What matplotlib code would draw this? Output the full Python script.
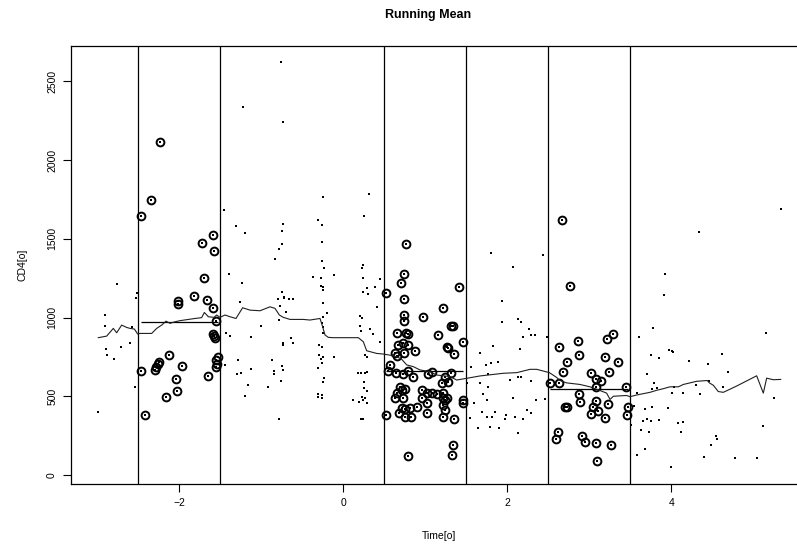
import numpy as np
import matplotlib
matplotlib.use('Agg')  # no display
import matplotlib.pyplot as plt

# --- data (time since seroconversion vs CD4 count) ---

# before the first window
seg_a_time = [-2.996, -2.910, -2.910, -2.898, -2.886, -2.801, -2.764, -2.715, -2.605, -2.577,
              -2.544, -2.528, -2.516]
seg_a_cd4 = [402, 1018, 948, 802, 759, 738, 1214, 810, 840, 941,
             560, 1126, 1157]

# window 1 (-2.5 .. -1.5)
win1_time = [-2.463, -2.463, -2.418, -2.345, -2.301, -2.280, -2.265, -2.250, -2.240, -2.167,
             -2.122, -2.040, -2.024, -2.012, -2.010, -1.967, -1.817, -1.728, -1.695, -1.667,
             -1.646, -1.585, -1.585, -1.585, -1.577, -1.572, -1.565, -1.557, -1.553, -1.553,
             -1.545, -1.524]
win1_cd4 = [1642, 662, 378, 1746, 666, 688, 705, 717, 2116, 497,
            764, 609, 533, 1104, 1085, 692, 1136, 1475, 1248, 1111,
            628, 1524, 1058, 895, 1422, 882, 872, 977, 730, 687,
            704, 751]

# between window 1 and window 2
seg_b_time = [-0.764, -1.228, -0.740, -1.459, -1.313, -1.203, -0.740, -0.748, -0.752, -0.789,
              -0.833, -1.394, -1.240, -1.260, -0.752, -0.801, -0.728, -0.728, -0.667, -0.618,
              -0.777, -0.699, -0.789, -1.008, -1.435, -1.382, -1.130, -0.642, -0.732, -0.740,
              -0.618, -1.447, -1.285, -1.130, -1.252, -1.301, -0.874, -0.752, -0.740, -0.846,
              -0.846, -0.760, -1.163, -0.923, -1.199, -0.789,
              0.314, -0.252, 0.253, -0.308, -0.264, -0.260, -0.264, -0.239, -0.369, -0.272,
              -0.117, 0.244, 0.224, 0.244, 0.448, 0.293, 0.305, 0.236, 0.383, -0.268,
              -0.243, -0.251, -0.251, 0.411, -0.195, -0.251, 0.204, 0.224, -0.264, -0.243,
              -0.243, 0.204, 0.216, 0.326, 0.358, 0.448, -0.292, -0.256, -0.300, -0.251,
              -0.276, -0.264, -0.113, -0.308, 0.265, 0.293, 0.183, 0.212, 0.265, 0.285,
              -0.235, -0.243, 0.253, 0.253, 0.285, -0.304, -0.264, -0.304, -0.264, 0.122,
              0.195, 0.244, 0.285, 0.224, 0.265, 0.216, 0.244]
seg_b_cd4 = [2624, 2339, 2243, 1682, 1583, 1538, 1596, 1549, 1469, 1435,
             1371, 1276, 1221, 1098, 1164, 1119, 1121, 1132, 1119, 1119,
             1073, 1032, 984, 948, 903, 884, 878, 872, 836, 825,
             836, 698, 730, 673, 649, 639, 730, 694, 666, 660,
             641, 598, 573, 560, 503, 353,
             1786, 1765, 1642, 1619, 1587, 1481, 1361, 1312, 1259, 1253,
             1267, 1331, 1312, 1253, 1246, 1187, 1149, 1164, 1195, 1202,
             1191, 1174, 1094, 1068, 1026, 1001, 1011, 994, 963, 937,
             899, 946, 916, 925, 895, 846, 825, 810, 762, 747,
             734, 713, 747, 677, 762, 747, 645, 645, 645, 656,
             613, 592, 592, 550, 533, 514, 507, 497, 486, 476,
             465, 476, 455, 497, 486, 355, 353]

# window 2 (0.5 .. 1.5)
win2_time = [0.765, 0.740, 0.704, 0.521, 0.740, 0.744, 0.744, 0.976, 0.651, 0.765,
             0.785, 0.671, 0.732, 0.793, 0.878, 0.631, 0.659, 0.740, 0.570, 0.549,
             0.643, 0.724, 0.793, 0.854, 1.037, 0.691, 0.753, 0.659, 0.712, 0.630,
             0.724, 0.956, 0.956, 1.017, 0.712, 0.753, 0.813, 0.894, 1.017, 0.521,
             0.683, 0.753, 0.822, 0.793, 1.025,
             1.415, 1.220, 1.309, 1.333, 1.159, 1.463, 1.260, 1.281, 1.350, 1.077,
             1.309, 1.240, 1.281, 1.199, 1.077, 1.138, 1.220, 1.260, 1.220, 1.240,
             1.211, 1.240, 1.211, 1.350, 1.455, 1.455, 1.342, 1.321]
win2_cd4 = [1464, 1276, 1217, 1157, 1119, 1016, 980, 1001, 899, 899,
            895, 825, 836, 825, 789, 772, 755, 772, 698, 662,
            649, 639, 662, 624, 639, 560, 543, 522, 539, 486,
            486, 539, 486, 518, 423, 416, 423, 429, 455, 380,
            391, 370, 370, 120, 396,
            1191, 1058, 946, 946, 889, 846, 814, 804, 768, 651,
            645, 620, 592, 582, 522, 514, 522, 486, 486, 476,
            444, 412, 370, 353, 476, 455, 190, 126]

# between window 2 and window 3
seg_c_time = [1.797, 2.431, 2.065, 1.931, 1.931, 2.126, 2.163, 2.260, 2.191, 2.289,
              2.333, 2.480, 2.154, 1.829, 1.667, 1.801, 1.886, 1.736, 1.553, 1.768,
              2.033, 2.126, 2.171, 2.289, 1.667, 1.504, 1.768, 1.699, 1.748, 2.065,
              2.346, 2.459, 1.594, 1.687, 1.748, 1.813, 1.850, 1.545, 1.984, 1.972,
              2.098, 2.195, 2.236, 2.285, 1.642, 1.789, 1.898, 2.126]
seg_c_cd4 = [1411, 1397, 1322, 1107, 973, 988, 973, 929, 878, 889,
             891, 878, 802, 819, 772, 713, 719, 698, 687, 639,
             603, 620, 624, 598, 586, 582, 560, 512, 476, 486,
             476, 482, 459, 397, 370, 370, 397, 364, 380, 353,
             370, 355, 412, 395, 296, 306, 300, 264]

# window 3 (2.5 .. 3.5)
win3_time = [2.662, 2.764, 2.634, 2.866, 3.211, 3.284, 2.878, 2.723, 3.191, 3.353,
             2.683, 3.244, 3.016, 3.081, 3.138, 2.520, 2.634, 3.081, 3.447, 2.878,
             3.231, 2.723, 2.703, 2.886, 3.081, 3.040, 3.110, 3.020, 3.191, 3.467,
             3.455, 2.906, 2.947, 3.081, 3.260, 2.622, 2.593, 3.089]
win3_cd4 = [1617, 1202, 810, 850, 861, 895, 761, 719, 751, 717,
            656, 654, 645, 607, 599, 582, 582, 560, 556, 514,
            450, 433, 429, 465, 471, 433, 408, 387, 359, 429,
            380, 247, 211, 205, 190, 275, 228, 90]

# after window 3
seg_d_time = [3.922, 3.910, 3.772, 3.601, 3.976, 3.752, 3.845, 3.699, 3.788, 3.821,
              3.764, 3.585, 3.544, 3.683, 3.760, 3.963, 3.699, 3.508, 3.658, 3.748,
              3.845, 3.626, 3.727, 3.679, 3.585,
              5.334, 4.338, 5.155, 4.004, 4.025, 4.212, 4.614, 4.443, 4.695, 4.460,
              4.301, 4.033, 4.626, 4.350, 4.008, 4.138, 5.252, 4.077, 4.147, 4.118,
              5.114, 4.541, 4.553, 4.480, 4.395, 4.777, 5.041, 3.996]
seg_d_cd4 = [1276, 1143, 931, 874, 793, 761, 740, 639, 582, 550,
             546, 518, 440, 419, 433, 427, 353, 317, 344, 344,
             349, 285, 270, 162, 126,
             1689, 1545, 903, 787, 783, 726, 766, 702, 656, 599,
             571, 560, 560, 514, 518, 518, 486, 332, 338, 275,
             313, 249, 226, 190, 116, 105, 111, 48]

# window edges and the mean CD4 drawn inside each window
win_lo = [-2.5, 0.5, 2.5]
win_hi = [-1.5, 1.5, 3.5]
win_mean = [969, 661, 543]

# running mean curve
rm_time = [-2.988, -2.886, -2.805, -2.764, -2.703, -2.642, -2.601, -2.548, -2.508, -2.480,
           -2.337, -2.276, -2.215, -2.162, -2.114, -2.053, -1.992, -1.809, -1.728, -1.695,
           -1.646, -1.577, -1.545, -1.504, -1.443, -1.382, -1.309, -1.228, -1.138, -1.016,
           -0.894, -0.833, -0.780, -0.732, -0.650, -0.488, -0.407, -0.284, -0.252, -0.223,
           -0.183, -0.121, 0.183, 0.244, 0.285, 0.407, 0.489, 0.570, 0.651, 0.712,
           0.773, 0.854, 0.936, 1.057, 1.139, 1.302, 1.383, 1.505, 1.667, 1.952,
           2.115, 2.277, 2.359, 2.513, 2.600, 2.643, 2.723, 2.886, 3.008, 3.089,
           3.211, 3.253, 3.293, 3.455, 3.496, 3.577, 3.740, 3.821, 3.902, 3.984,
           4.086, 4.147, 4.309, 4.439, 4.464, 4.512, 4.573, 4.634, 4.716, 4.797,
           5.041, 5.122, 5.163, 5.244, 5.334]
rm_cd4 = [872, 882, 931, 903, 952, 937, 931, 927, 895, 899,
          899, 931, 952, 977, 963, 973, 980, 994, 999, 1032,
          1005, 1001, 1016, 1001, 1016, 1005, 994, 1062, 1047, 1043,
          1068, 1058, 1016, 1001, 988, 988, 984, 994, 941, 889,
          874, 872, 872, 846, 789, 772, 768, 761, 751, 735,
          699, 688, 667, 656, 635, 625, 603, 614, 629, 646,
          650, 671, 671, 650, 620, 600, 585, 575, 560, 545,
          520, 480, 500, 505, 497, 508, 525, 538, 548, 560,
          560, 575, 595, 600, 585, 570, 530, 525, 545, 565,
          630, 520, 615, 605, 607]

x_ticks = [-2, 0, 2, 4]
y_ticks = [0, 500, 1000, 1500, 2000, 2500]


def main():
    plt.rcParams['font.family'] = ['Liberation Sans', 'DejaVu Sans']

    time = np.array(seg_a_time + win1_time + seg_b_time + win2_time + seg_c_time
                    + win3_time + seg_d_time)
    cd4 = np.array(seg_a_cd4 + win1_cd4 + seg_b_cd4 + win2_cd4 + seg_c_cd4
                   + win3_cd4 + seg_d_cd4)

    W, H = 797, 544
    fig = plt.figure(figsize=(W / 100, H / 100), dpi=100)
    # plot region runs past the right edge of the picture, as in the reference
    ax = fig.add_axes([71 / W, 59.7 / H, 737 / W, 438.6 / H])
    ax.set_xlim(-3.321, 5.667)
    ax.set_ylim(-59, 2726)

    # all observations as small dots
    ax.plot(time, cd4, 's', color='black', ms=1.5, mew=0)

    # windows: vertical bounds, circled points, mean level
    for lo, hi, m in zip(win_lo, win_hi, win_mean):
        ax.axvline(lo, color='black', lw=0.9)
        ax.axvline(hi, color='black', lw=0.9)
        sel = (time >= lo) & (time <= hi)
        ax.plot(time[sel], cd4[sel], 'o', mfc='none', mec='black', ms=5.6, mew=1.4)
        ax.hlines(m, time[sel].min(), time[sel].max(), color='black', lw=0.9)

    ax.plot(rm_time, rm_cd4, color='#202020', lw=0.8)

    ax.set_xticks(x_ticks)
    ax.set_yticks(y_ticks)
    ax.tick_params(direction='out', length=6, width=0.8, labelsize=7.5, pad=4)
    for lab in ax.get_yticklabels():
        lab.set_rotation(90)
        lab.set_va('center')
    for s in ax.spines.values():
        s.set_linewidth(0.9)

    fig.text(23 / W, 1 - 265 / H, 'CD4[o]', rotation=90, ha='center', va='center', fontsize=7.5)
    fig.text(439.5 / W, 1 - 536 / H, 'Time[o]', ha='center', va='center', fontsize=7.5)
    fig.text(428 / W, 1 - 15 / H, 'Running Mean', ha='center', va='center',
             fontsize=9, fontweight='bold')

    fig.savefig('out.png', dpi=100)
    plt.close(fig)


if __name__ == '__main__':
    main()
